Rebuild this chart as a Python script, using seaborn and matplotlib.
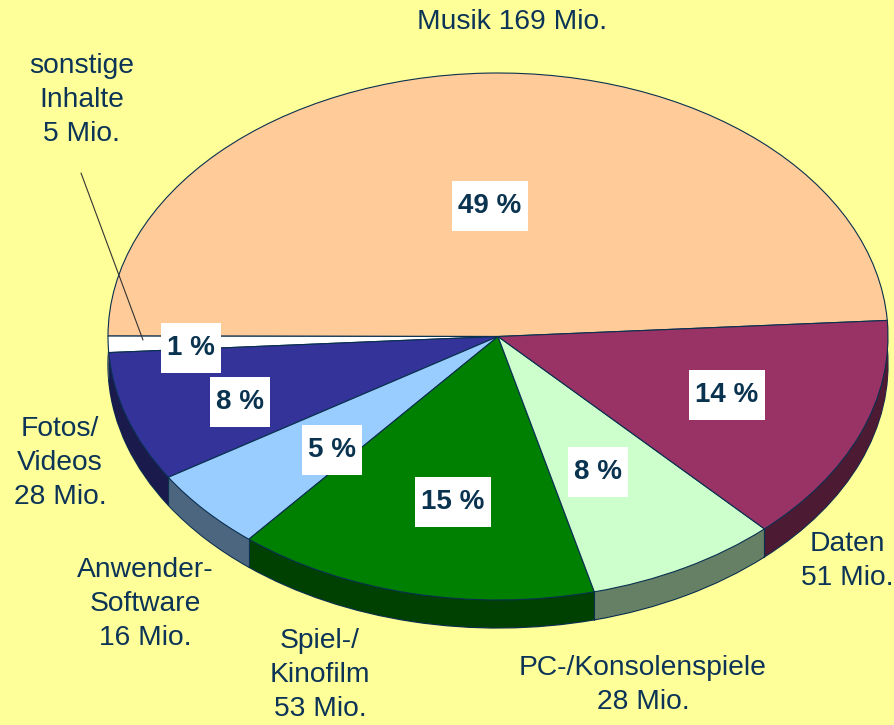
import numpy as np
import matplotlib
matplotlib.use("Agg")
import matplotlib.pyplot as plt
import matplotlib.colors as mcolors
from matplotlib.lines import Line2D
from matplotlib.path import Path
import seaborn as sns

# ---- data ----
categories = ["Musik", "sonstige Inhalte", "Fotos/Videos", "Anwender-Software",
              "Spiel-/Kinofilm", "PC-/Konsolenspiele", "Daten"]
shares_pct = [49, 1, 8, 5, 15, 8, 14]
millions = [169, 5, 28, 16, 53, 28, 51]
label_names = ["Musik", "sonstige\nInhalte", "Fotos/\nVideos", "Anwender-\nSoftware",
               "Spiel-/\nKinofilm", "PC-/Konsolenspiele", "Daten"]
label_seps = [" ", "\n", "\n", "\n", "\n", "\n", "\n"]

# ---- style ----
slice_colors = ["#FFCC99", "#FFFFFF", "#333399", "#99CCFF", "#008000", "#CCFFCC", "#993366"]
BG = "#FFFF99"
EDGE = "#0A3050"
TXT = "#0C3457"
PCT_TXT = "#0A3350"

sns.set_theme(style="white", rc={"figure.facecolor": BG, "axes.facecolor": BG})
plt.rcParams["font.family"] = ["Liberation Sans", "DejaVu Sans"]

W, H = 895, 725
fig = plt.figure(figsize=(W / 100, H / 100), dpi=100, facecolor=BG)
ax = fig.add_axes([0, 0, 1, 1])
ax.set_facecolor(BG)

cx, cy, rx, ry = 498.0, 336.5, 390.0, 263.5
depth = 28.0
start = 3.5

side_colors = [tuple(np.array(mcolors.to_rgb(c)) * 0.5) for c in slice_colors]

# 3D side: stacked shifted pies
n_layers = 40
for k in range(n_layers, 0, -1):
    off = depth * k / n_layers / ry
    wp = dict(linewidth=0, antialiased=True)
    if k == n_layers:
        wp = dict(linewidth=0.9, edgecolor=EDGE)
    ax.pie(shares_pct, colors=side_colors, startangle=start, counterclock=True,
           center=(0, -off), radius=1.0, wedgeprops=wp, frame=True)

# vertical edges on the visible side at slice boundaries
bounds = start + 360.0 * np.cumsum([0] + shares_pct) / sum(shares_pct)
for b in bounds:
    a = np.deg2rad(b % 360)
    if np.sin(a) < -0.05:
        x0, y0 = np.cos(a), np.sin(a)
        ax.plot([x0, x0], [y0, y0 - depth / ry], color=EDGE, lw=0.8, zorder=5)

# top face
ax.pie(shares_pct, colors=slice_colors, startangle=start, counterclock=True,
       center=(0, 0), radius=1.0, wedgeprops=dict(linewidth=0.8, edgecolor=EDGE),
       frame=True)
for p in ax.patches[-len(shares_pct):]:
    p.set_zorder(6)

ax.set_aspect("auto")
ax.set_xlim(-cx / rx, (W - cx) / rx)
ax.set_ylim(-(H - cy) / ry, cy / ry)
ax.set_xticks([]); ax.set_yticks([])
for s in ax.spines.values():
    s.set_visible(False)


def fx(px):
    return px / W


def fy(py):
    return 1 - py / H


def label_box(x0, y0, width, height, mutation_size):
    padx = 0.22 * mutation_size
    pady = 0.42 * mutation_size
    x0, y0 = x0 - padx, y0 - pady
    x1, y1 = x0 + width + 2 * padx, y0 + height + 2 * pady
    return Path([(x0, y0), (x1, y0), (x1, y1), (x0, y1), (x0, y0)],
                closed=True)


# percentage labels (pixel layout positions)
pct_pos = [(490, 206), (191, 348), (240, 402), (332, 450), (453, 502), (598, 472), (727, 395)]
for p, (px, py) in zip(shares_pct, pct_pos):
    fig.text(fx(px), fy(py), f"{p} %", ha="center", va="center", fontsize=20,
             fontweight="bold", color=PCT_TXT, zorder=10,
             bbox=dict(boxstyle=label_box, facecolor="white", edgecolor="none"))

# outer labels
outer_pos = [(512, 22), (82, 100), (60, 463), (145, 604), (320, 675), (643, 685), (847, 561)]
for name, sep, m, (px, py) in zip(label_names, label_seps, millions, outer_pos):
    fig.text(fx(px), fy(py), f"{name}{sep}{m} Mio.", ha="center", va="center",
             multialignment="center", fontsize=20.3, color=TXT, linespacing=1.38,
             zorder=10)

# leader line for "sonstige Inhalte"
fig.add_artist(Line2D([fx(81), fx(143)], [fy(173), fy(340)], color="#333333", lw=0.8, zorder=9))

fig.savefig("out.png", dpi=100, facecolor=BG)
